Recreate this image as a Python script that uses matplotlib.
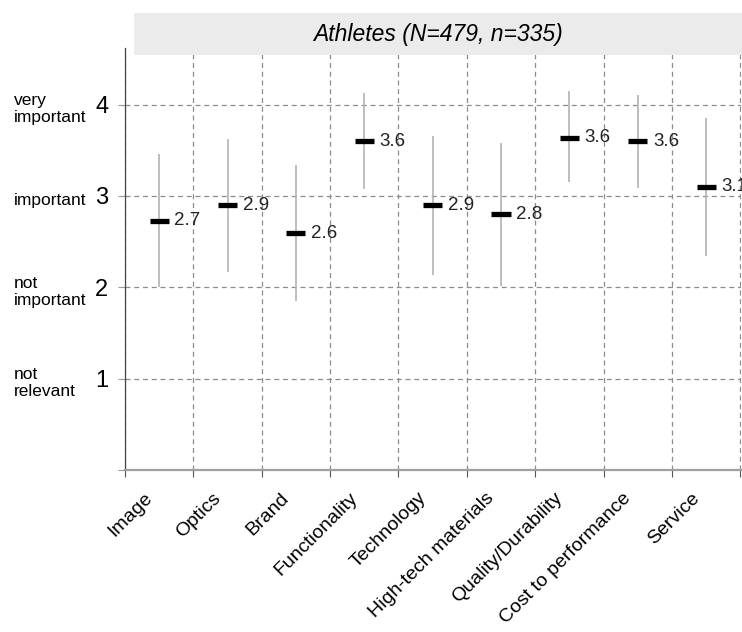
import matplotlib
matplotlib.use("Agg")
import matplotlib.pyplot as plt
import matplotlib.transforms as mtransforms
from matplotlib.patches import Rectangle

plt.rcParams['font.family'] = ['Liberation Sans', 'DejaVu Sans']

categories = ["Image", "Optics", "Brand", "Functionality", "Technology",
              "High-tech materials", "Quality/Durability", "Cost to performance", "Service"]
means = [2.73, 2.90, 2.59, 3.60, 2.90, 2.80, 3.64, 3.60, 3.10]
upper = [3.46, 3.62, 3.34, 4.13, 3.66, 3.58, 4.15, 4.11, 3.85]
lower = [2.00, 2.17, 1.85, 3.08, 2.13, 2.01, 3.15, 3.09, 2.34]
scale_values = [1, 2, 3, 4]
scale_names = ["not\nrelevant", "not\nimportant", "important", "very\nimportant"]
title = "Athletes (N=479, n=335)"

W, H = 742, 632
fig = plt.figure(figsize=(W / 100, H / 100), dpi=100)
ax = fig.add_axes([125 / W, 1 - 470 / H, 616 / W, 422 / H])

xs = [i + 0.5 for i in range(len(categories))]

# whiskers and mean bars
ax.vlines(xs, lower, upper, color="#b3b3b3", lw=1.2, zorder=3)
ax.hlines(means, [x - 0.14 for x in xs], [x + 0.14 for x in xs],
          color="black", lw=3.8, zorder=4)
for x, m in zip(xs, means):
    ax.annotate(f"{m:.1f}", (x, m), xytext=(11, 0), textcoords="offset points",
                ha="left", va="center", fontsize=13.5, color="#222222")

ax.set_xlim(0, 9.01)
ax.set_ylim(0, 4.62)

ax.set_xticks(range(0, 10))
ax.set_xticklabels([])
ax.set_xticks(xs, minor=True)
ax.set_xticklabels(categories, minor=True, rotation=45, ha="right", va="top",
                   rotation_mode="anchor", fontsize=14)
ax.tick_params(axis="x", which="minor", length=0, pad=14)
ax.tick_params(axis="x", which="major", length=5, color="#555555", direction="out")
shift = mtransforms.ScaledTranslation(-11 / 72, 0, fig.dpi_scale_trans)
for lbl in ax.get_xticklabels(minor=True):
    lbl.set_transform(lbl.get_transform() + shift)

ax.set_yticks([0] + scale_values)
ax.set_yticklabels([""] + [str(v) for v in scale_values], fontsize=17)
ax.tick_params(axis="y", length=5, color="#999999", pad=7)

ax.grid(True, which="major", color="#8c8c8c", ls=(0, (4, 3)), lw=0.9)
ax.set_axisbelow(True)

for s in ["top", "right"]:
    ax.spines[s].set_visible(False)
ax.spines["left"].set_color("#444444")
ax.spines["left"].set_linewidth(0.9)
ax.spines["bottom"].set_color("#a0a0a0")
ax.spines["bottom"].set_linewidth(1.6)

# verbal scale names at the far left
trans = mtransforms.blended_transform_factory(fig.transFigure, ax.transData)
for v, name in zip(scale_values, scale_names):
    ax.text(14 / W, v - 0.05, name, transform=trans, ha="left", va="center",
            fontsize=12.5, linespacing=1.15, clip_on=False)

# header strip
fig.patches.append(Rectangle((134 / W, 1 - 55 / H), (W - 134) / W, 42 / H,
                             transform=fig.transFigure, facecolor="#ebebeb",
                             edgecolor="none", zorder=5))
fig.text((134 + W) / 2 / W, 1 - 34 / H, title, ha="center", va="center",
         fontsize=16.5, style="italic", zorder=6)

fig.savefig("out.png", dpi=100)
